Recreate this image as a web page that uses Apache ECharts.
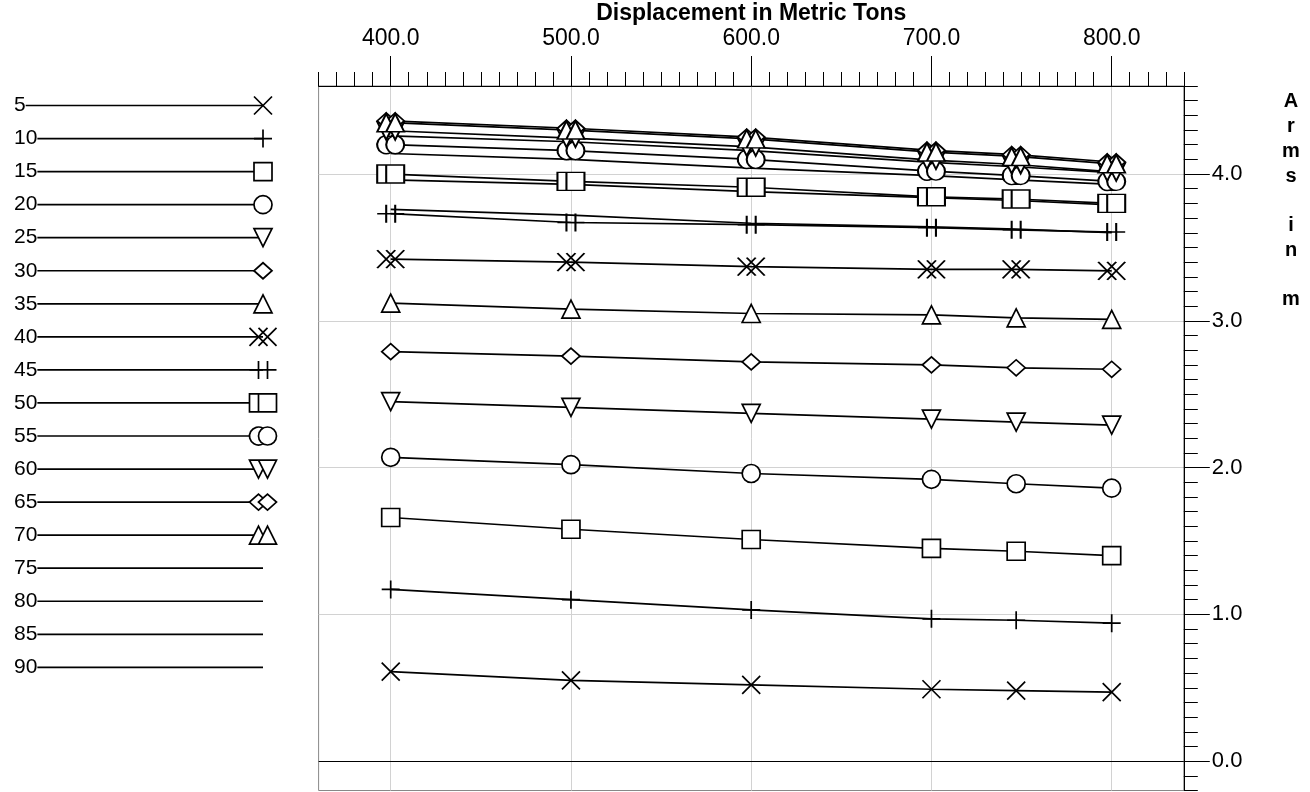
<!DOCTYPE html>
<html>
<head>
<meta charset="utf-8">
<title>Righting arms vs displacement</title>
<script src="https://cdn.jsdelivr.net/npm/echarts@6.0.0/dist/echarts.min.js"></script>
<style>
  html, body { margin: 0; padding: 0; background: #fff; }
  #chart { width: 1310px; height: 792px; }
</style>
</head>
<body>
<div id="chart"></div>
<script>
// Displacement (metric tons) at which the righting arms were computed
const displacement = [400, 500, 600, 700, 747, 800];

// Heel angles (degrees), one curve each
const heelAngles = ['5', '10', '15', '20', '25', '30', '35', '40', '45',
                    '50', '55', '60', '65', '70', '75', '80', '85', '90'];

// Righting arm (m) per heel angle, one value per displacement
const arm5  = [0.61, 0.55, 0.52, 0.49, 0.48, 0.47];
const arm10 = [1.17, 1.10, 1.03, 0.97, 0.96, 0.94];
const arm15 = [1.66, 1.58, 1.51, 1.45, 1.43, 1.40];
const arm20 = [2.07, 2.02, 1.96, 1.92, 1.89, 1.86];
const arm25 = [2.45, 2.41, 2.37, 2.33, 2.31, 2.29];
const arm30 = [2.79, 2.76, 2.72, 2.70, 2.68, 2.67];
const arm35 = [3.12, 3.08, 3.05, 3.04, 3.02, 3.01];
const arm40 = [3.42, 3.40, 3.37, 3.35, 3.35, 3.34];
const arm45 = [3.73, 3.67, 3.655, 3.635, 3.62, 3.605];
const arm50 = [4.00, 3.95, 3.91, 3.845, 3.83, 3.80];
const arm55 = [4.20, 4.16, 4.10, 4.02, 3.99, 3.95];
const arm60 = [4.295, 4.245, 4.185, 4.095, 4.065, 4.015];
const arm65 = [4.362, 4.312, 4.252, 4.162, 4.132, 4.082];
const arm70 = [4.35, 4.30, 4.24, 4.15, 4.12, 4.07];
const arm75 = [4.26, 4.22, 4.16, 4.08, 4.05, 4.01];
const arm80 = [4.14, 4.10, 4.04, 3.99, 3.96, 3.93];
const arm85 = [3.96, 3.93, 3.88, 3.84, 3.82, 3.79];
const arm90 = [3.76, 3.72, 3.665, 3.64, 3.625, 3.60];

// Labelled tick positions
const xMajorTicks = [400, 500, 600, 700, 800];
const yMajorTicks = [0, 1, 2, 3, 4];

const FONT = "'Liberation Sans', Arial, Helvetica, sans-serif";
const INK = '#000';
const LINE_W = 1.7;

// Marker outlines (single glyphs 18 wide, doubled glyphs offset by 9)
const MARKS = {
  cross:    { d: 'M0 0L18 18M18 0L0 18', size: [18, 18] },
  plus:     { d: 'M0 9H18M9 0V18', size: [18, 18] },
  square:   { d: 'M0 0H18V18H0Z', size: [18, 18] },
  circle:   { d: 'M18 9A9 9 0 1 0 0 9A9 9 0 1 0 18 9Z', size: [18, 18] },
  triDown:  { d: 'M0 0L9 18L18 0Z', size: [18, 18] },
  diamond:  { d: 'M0 8L9 16L18 8L9 0Z', size: [18, 16] },
  triUp:    { d: 'M0 18L9 0L18 18Z', size: [18, 18] },
  cross2:   { d: 'M0 0L18 18M18 0L0 18M9 0L27 18M27 0L9 18', size: [27, 18] },
  plus2:    { d: 'M0 9H27M9 0V18M18 0V18', size: [27, 18] },
  square2:  { d: 'M0 0H27V18H0ZM9 0V18', size: [27, 18] },
  circle2:  { d: 'M13.5 1.21A9 9 0 1 0 13.5 16.79M27 9A9 9 0 1 0 9 9A9 9 0 1 0 27 9Z', size: [27, 18] },
  triDown2: { d: 'M9 0L0 0L9 18L13.5 9M9 0L18 18L27 0Z', size: [27, 18] },
  diamond2: { d: 'M13.5 4L9 0L0 8L9 16L13.5 12M9 8L18 16L27 8L18 0Z', size: [27, 16] },
  triUp2:   { d: 'M9 18L0 18L9 0L13.5 9M9 18L18 0L27 18Z', size: [27, 18] }
};

// Each marker outline also becomes a graphic shape for the key
Object.keys(MARKS).forEach(k => {
  echarts.graphic.registerShape('mark_' + k, echarts.graphic.extendPath(MARKS[k].d, {}));
});

const curves = [
  { values: arm5,  mark: 'cross' },
  { values: arm10, mark: 'plus' },
  { values: arm15, mark: 'square' },
  { values: arm20, mark: 'circle' },
  { values: arm25, mark: 'triDown' },
  { values: arm30, mark: 'diamond' },
  { values: arm35, mark: 'triUp' },
  { values: arm40, mark: 'cross2' },
  { values: arm45, mark: 'plus2' },
  { values: arm50, mark: 'square2' },
  { values: arm55, mark: 'circle2' },
  { values: arm60, mark: 'triDown2' },
  { values: arm65, mark: 'diamond2' },
  { values: arm70, mark: 'triUp2' },
  { values: arm75, mark: null },
  { values: arm80, mark: null },
  { values: arm85, mark: null },
  { values: arm90, mark: null }
];

const series = curves.map((c, i) => {
  const m = c.mark ? MARKS[c.mark] : null;
  const s = {
    type: 'line',
    name: heelAngles[i],
    xAxisIndex: 0,
    yAxisIndex: 0,
    data: displacement.map((d, k) => [d, c.values[k]]),
    symbol: m ? 'path://' + m.d : 'none',
    symbolSize: m ? m.size : 0,
    showSymbol: !!m,
    lineStyle: { color: INK, width: LINE_W },
    itemStyle: { color: '#fff', borderColor: INK, borderWidth: LINE_W },
    emphasis: { disabled: true },
    z: m ? 3 : 2,
    silent: true,
    animation: false
  };
  if (i === 0) {
    // zero reference line across the plot
    s.markLine = {
      silent: true,
      symbol: ['none', 'none'],
      label: { show: false },
      lineStyle: { color: INK, width: 1.2, type: 'solid' },
      data: [{ yAxis: 0 }],
      animation: false
    };
  }
  return s;
});

// Key on the left: label, rule and marker for every heel angle
const keyGraphics = [];
const ROW0 = 105.5, ROW_STEP = 33.05, KEY_X0 = 14, KEY_X1 = 263;
heelAngles.forEach((name, i) => {
  const y = ROW0 + i * ROW_STEP;
  keyGraphics.push({
    type: 'line',
    shape: { x1: KEY_X0, y1: y, x2: KEY_X1, y2: y },
    style: { stroke: INK, lineWidth: LINE_W }
  });
  keyGraphics.push({
    type: 'text',
    x: KEY_X0,
    y: y,
    style: {
      text: name,
      font: '21px ' + FONT,
      fill: INK,
      align: 'left',
      verticalAlign: 'middle',
      backgroundColor: '#fff'
    }
  });
  const mk = curves[i].mark;
  if (mk) {
    const m = MARKS[mk];
    keyGraphics.push({
      type: 'mark_' + mk,
      x: KEY_X1 - m.size[0] / 2,
      y: y - m.size[1] / 2,
      style: { fill: '#fff', stroke: INK, lineWidth: LINE_W }
    });
  }
});

// Vertical axis title, one letter per line
keyGraphics.push({
  type: 'text',
  x: 1291,
  y: 89.6,
  style: {
    text: 'A\nr\nm\ns\n\ni\nn\n\nm',
    font: 'bold 20px ' + FONT,
    lineHeight: 24.75,
    fill: INK,
    align: 'center',
    verticalAlign: 'top'
  }
});

const fmt1 = v => Number(v).toFixed(1);

const option = {
  animation: false,
  backgroundColor: '#fff',
  textStyle: { fontFamily: FONT, color: INK },
  grid: {
    left: 318.6, right: 126.2, top: 86, bottom: 1.5,
    show: true, borderColor: '#888', borderWidth: 1, backgroundColor: 'transparent',
    containLabel: false,
    outerBoundsMode: 'none'
  },
  xAxis: [
    { // fine scale: a short tick every 10 t
      type: 'value', position: 'top', min: 360, max: 840, interval: 10,
      axisLine: { show: true, onZero: false, lineStyle: { color: INK, width: 1 } },
      axisTick: { show: true, length: 14, lineStyle: { color: INK, width: 1 } },
      axisLabel: { show: false },
      splitLine: { show: false }
    },
    { // labelled scale every 100 t
      type: 'value', position: 'top', min: 360, max: 840,
      name: 'Displacement in Metric Tons',
      nameLocation: 'middle', nameGap: 61, nameMoveOverlap: false,
      nameTextStyle: { fontFamily: FONT, fontWeight: 'bold', fontSize: 23, color: INK },
      axisLine: { show: false, onZero: false },
      axisTick: { show: true, customValues: xMajorTicks, length: 30, lineStyle: { color: INK, width: 1 } },
      axisLabel: { show: true, customValues: xMajorTicks, formatter: fmt1, fontSize: 23, margin: 36, color: INK, fontFamily: FONT },
      splitLine: { show: true, lineStyle: { color: '#d2d2d2', width: 1 } }
    }
  ],
  yAxis: [
    { // fine scale: a short tick every 0.1 m
      type: 'value', position: 'right', min: -0.2, max: 4.6, interval: 0.1,
      axisLine: { show: true, onZero: false, lineStyle: { color: INK, width: 1 } },
      axisTick: { show: true, length: 14, lineStyle: { color: INK, width: 1 } },
      axisLabel: { show: false },
      splitLine: { show: false }
    },
    { // labelled scale every 1 m
      type: 'value', position: 'right', min: -0.2, max: 4.6,
      axisLine: { show: false, onZero: false },
      axisTick: { show: true, customValues: yMajorTicks, length: 26, lineStyle: { color: INK, width: 1 } },
      axisLabel: { show: true, customValues: yMajorTicks, formatter: fmt1, fontSize: 22, margin: 28, color: INK, fontFamily: FONT },
      splitLine: { show: true, lineStyle: { color: '#d2d2d2', width: 1 } }
    }
  ],
  graphic: keyGraphics,
  series: series
};

const chart = echarts.init(document.getElementById('chart'), null, { renderer: 'canvas' });
chart.setOption(option);
</script>
</body>
</html>
